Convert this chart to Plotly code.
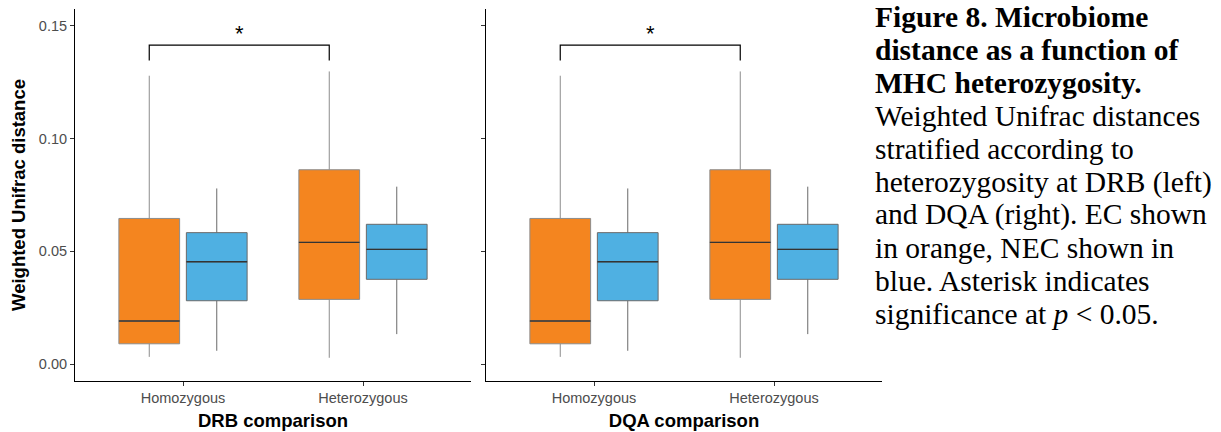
import plotly.graph_objects as go

# ---------------- data ----------------
categories = ["Homozygous", "Heterozygous"]
panels = ["DRB comparison", "DQA comparison"]
groups = ["EC", "NEC"]

# box statistics per panel, per group, per category
ec_lower  = [0.0032, 0.0028]
ec_q1     = [0.0090, 0.0287]
ec_median = [0.0191, 0.0540]
ec_q3     = [0.0646, 0.0862]
ec_upper  = [0.1279, 0.1298]

nec_lower  = [0.0059, 0.0133]
nec_q1     = [0.0281, 0.0376]
nec_median = [0.0454, 0.0509]
nec_q3     = [0.0583, 0.0620]
nec_upper  = [0.0779, 0.0787]

bracket_y = 0.1415
bracket_tip = 0.1347
star_y = 0.1468

y_ticks = [0.00, 0.05, 0.10, 0.15]
y_ticktext = ["0.00", "0.05", "0.10", "0.15"]

caption_lines = [
    "<b>Figure 8. Microbiome</b>",
    "<b>distance as a function of</b>",
    "<b>MHC heterozygosity.</b>",
    "Weighted Unifrac distances",
    "stratified according to",
    "heterozygosity at DRB (left)",
    "and DQA (right). EC shown",
    "in orange, NEC shown in",
    "blue. Asterisk indicates",
    "significance at <i>p</i> &lt; 0.05.",
]

# ---------------- style ----------------
W, H = 1221, 432
ORANGE = "#F4851F"
BLUE = "#4FB0E2"
dodge = 0.1875
box_w = 0.3375

stats = {
    "EC": dict(lower=ec_lower, q1=ec_q1, median=ec_median, q3=ec_q3, upper=ec_upper,
               color=ORANGE, line="#8c8c8c", off=-dodge),
    "NEC": dict(lower=nec_lower, q1=nec_q1, median=nec_median, q3=nec_q3, upper=nec_upper,
                color=BLUE, line="#6a6a6a", off=dodge),
}

fig = go.Figure()
xpos = [1, 2]
for p, panel in enumerate(panels):
    xa = "x" if p == 0 else "x2"
    ya = "y" if p == 0 else "y2"
    for g in groups:
        s = stats[g]
        xs = [v + s["off"] for v in xpos]
        fig.add_trace(go.Box(
            x=xs, q1=s["q1"], median=s["median"], q3=s["q3"],
            lowerfence=s["lower"], upperfence=s["upper"],
            width=box_w, whiskerwidth=0, fillcolor=s["color"],
            line=dict(color=s["line"], width=1), boxpoints=False,
            showlegend=False, hoverinfo="skip", xaxis=xa, yaxis=ya, name=g))
        # darker median lines
        mx, my = [], []
        for x0, m in zip(xs, s["median"]):
            mx += [x0 - box_w / 2, x0 + box_w / 2, None]
            my += [m, m, None]
        fig.add_trace(go.Scatter(x=mx, y=my, mode="lines",
                                 line=dict(color="#333333", width=1.4),
                                 showlegend=False, hoverinfo="skip", xaxis=xa, yaxis=ya))
    # significance bracket between EC boxes
    bx = [xpos[0] - dodge, xpos[0] - dodge, xpos[1] - dodge, xpos[1] - dodge]
    by = [bracket_tip, bracket_y, bracket_y, bracket_tip]
    fig.add_trace(go.Scatter(x=bx, y=by, mode="lines", line=dict(color="black", width=1.2),
                             showlegend=False, hoverinfo="skip", xaxis=xa, yaxis=ya))
    fig.add_annotation(x=(bx[0] + bx[-1]) / 2, y=star_y, xref=xa, yref=ya, text="*",
                       showarrow=False, font=dict(family="Liberation Sans", size=22, color="black"),
                       yanchor="middle")

dom_y = [51 / H, 423 / H]
axis_common = dict(showline=True, linecolor="black", linewidth=1.1, ticks="outside",
                   ticklen=4, tickcolor="#333333", tickwidth=1, showgrid=False, zeroline=False,
                   tickfont=dict(family="Liberation Sans", size=14.5, color="#4d4d4d"))
xcommon = dict(axis_common, range=[0.4, 2.6], tickvals=xpos, ticktext=categories)
ycommon = dict(axis_common, range=[-0.0075, 0.1575], tickvals=y_ticks, ticktext=y_ticktext)

title_font = dict(family="Liberation Sans", size=18.5, color="black")
fig.update_layout(
    width=W, height=H, margin=dict(l=0, r=0, t=0, b=0),
    paper_bgcolor="white", plot_bgcolor="white", boxmode="overlay",
    xaxis=dict(xcommon, domain=[75 / W, 471 / W], anchor="y",
               title=dict(text="<b>DRB comparison</b>", font=title_font, standoff=8)),
    xaxis2=dict(xcommon, domain=[486 / W, 882 / W], anchor="y2",
                title=dict(text="<b>DQA comparison</b>", font=title_font, standoff=8)),
    yaxis=dict(ycommon, domain=dom_y, anchor="x",
               title=dict(text="<b>Weighted Unifrac distance</b>", font=title_font, standoff=8)),
    yaxis2=dict(ycommon, domain=dom_y, anchor="x2", showticklabels=False),
)

# caption
for i, line in enumerate(caption_lines):
    y_px = 17 + i * 33.0
    fig.add_annotation(x=874 / W, y=1 - y_px / H, xref="paper", yref="paper",
                       text=line, showarrow=False, xanchor="left", yanchor="middle",
                       borderpad=0,
                       font=dict(family="Liberation Serif", size=29.5, color="black"))

fig.write_html("out.html")
